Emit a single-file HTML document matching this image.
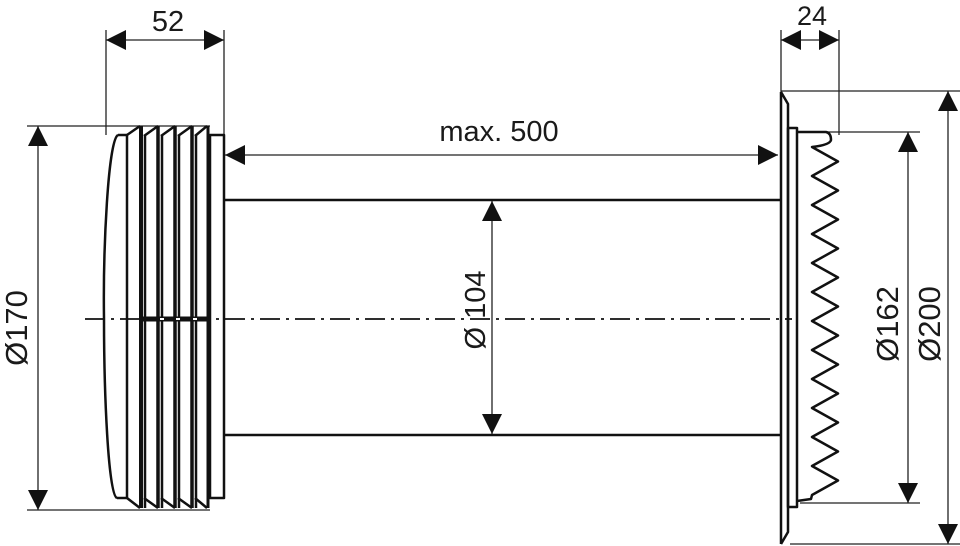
<!DOCTYPE html>
<html><head><meta charset="utf-8"><style>
html,body{margin:0;padding:0;background:#fff;}
svg{display:block;}
text{font-family:"Liberation Sans","DejaVu Sans",sans-serif;fill:#1a1a1a;}
</style></head><body>
<svg width="960" height="546" viewBox="0 0 960 546" xmlns="http://www.w3.org/2000/svg">
<defs>
<marker id="a" viewBox="0 0 20 20" refX="20" refY="10" markerWidth="20" markerHeight="20" markerUnits="userSpaceOnUse" orient="auto-start-reverse">
<path d="M0,0 L20,10 L0,20 Z" fill="#111"/></marker>
</defs>
<g stroke="#222" stroke-width="1.3" fill="none">
<line x1="106" y1="30" x2="106" y2="135"/>
<line x1="224" y1="30" x2="224" y2="135"/>
<line x1="781" y1="30" x2="781" y2="95"/>
<line x1="839" y1="30" x2="839" y2="135"/>
<line x1="27" y1="126" x2="210" y2="126"/>
<line x1="27" y1="510" x2="210" y2="510"/>
<line x1="781" y1="91" x2="960" y2="91"/>
<line x1="790" y1="544" x2="960" y2="544"/>
<line x1="826" y1="132" x2="920" y2="132"/>
<line x1="800" y1="503" x2="920" y2="503"/>
<line x1="106" y1="40" x2="224" y2="40" marker-start="url(#a)" marker-end="url(#a)"/>
<line x1="781" y1="40" x2="839" y2="40" marker-start="url(#a)" marker-end="url(#a)"/>
<line x1="225" y1="155" x2="778" y2="155" marker-start="url(#a)" marker-end="url(#a)"/>
<line x1="38" y1="126" x2="38" y2="510" marker-start="url(#a)" marker-end="url(#a)"/>
<line x1="492" y1="201" x2="492" y2="434" marker-start="url(#a)" marker-end="url(#a)"/>
<line x1="908" y1="132" x2="908" y2="503" marker-start="url(#a)" marker-end="url(#a)"/>
<line x1="948" y1="91" x2="948" y2="544" marker-start="url(#a)" marker-end="url(#a)"/>
<line x1="85" y1="319" x2="792" y2="319" stroke="#111" stroke-width="1.7" stroke-dasharray="20,6,3,6"/>
</g>
<g stroke="#111" stroke-width="2.5" fill="none" stroke-linejoin="round">
<path d="M118,135 C108,140 103,250 104,319 C104,390 108,495 117,498"/>
<line x1="118" y1="135" x2="127" y2="135"/>
<line x1="117" y1="498" x2="127" y2="498"/>
<line x1="127" y1="135" x2="127" y2="498"/>
<path d="M127,135 L140,126 M144,136 L158,126 M161,136 L175,126 M178,136 L192,126 M195,136 L207,126"/>
<path d="M127,498 L140,508 M144,498 L158,508 M161,498 L175,508 M178,498 L192,508 M195,498 L207,508"/>
<line x1="141" y1="126" x2="141" y2="508" stroke-width="4"/>
<line x1="145" y1="135" x2="145" y2="508"/>
<line x1="158" y1="126" x2="158" y2="508" stroke-width="3.5"/>
<line x1="162" y1="135" x2="162" y2="508"/>
<line x1="175" y1="126" x2="175" y2="508" stroke-width="3.5"/>
<line x1="179" y1="135" x2="179" y2="508"/>
<line x1="192" y1="126" x2="192" y2="508" stroke-width="3.5"/>
<line x1="196" y1="135" x2="196" y2="508"/>
<line x1="208" y1="126" x2="208" y2="508" stroke-width="3"/>
<rect x="210" y="135" width="14" height="363"/>
<line x1="141" y1="319" x2="208" y2="319" stroke-width="5"/>
<line x1="224" y1="200" x2="781" y2="200"/>
<line x1="224" y1="435" x2="781" y2="435"/>
<path d="M781,92 L781,544 M781,92 L788,104 L788,532 L781,544"/>
<rect x="788" y="128" width="9" height="379"/>
<path d="M797,132 L826,132 Q831,133 831,140 Q830,145 812,147 L838,161.5 L812,176 L838,190.5 L812,205 L838,219.5 L812,234 L838,248.5 L812,263 L838,277.5 L812,292 L838,306.5 L812,321 L838,335.5 L812,350 L838,364.5 L812,379 L838,393.5 L812,408 L838,422.5 L812,437 L838,451.5 L812,466 L838,480.5 L812,495 L811,499 L797,501"/>
</g>
<g stroke="none" fill="#fff"><rect x="160" y="318" width="4" height="2"/><rect x="176" y="318" width="4" height="2"/><rect x="193" y="318" width="4" height="2"/></g>
<text x="168" y="31" font-size="29" text-anchor="middle">52</text>
<text x="812" y="25" font-size="27" text-anchor="middle">24</text>
<text x="499" y="141" font-size="29" text-anchor="middle">max. 500</text>
<text transform="translate(27,328) rotate(-90)" font-size="31" text-anchor="middle">Ø170</text>
<text transform="translate(485,310) rotate(-90)" font-size="29" text-anchor="middle">Ø 104</text>
<text transform="translate(898,324) rotate(-90)" font-size="31" text-anchor="middle">Ø162</text>
<text transform="translate(940,324) rotate(-90)" font-size="31" text-anchor="middle">Ø200</text>
</svg>
</body></html>
